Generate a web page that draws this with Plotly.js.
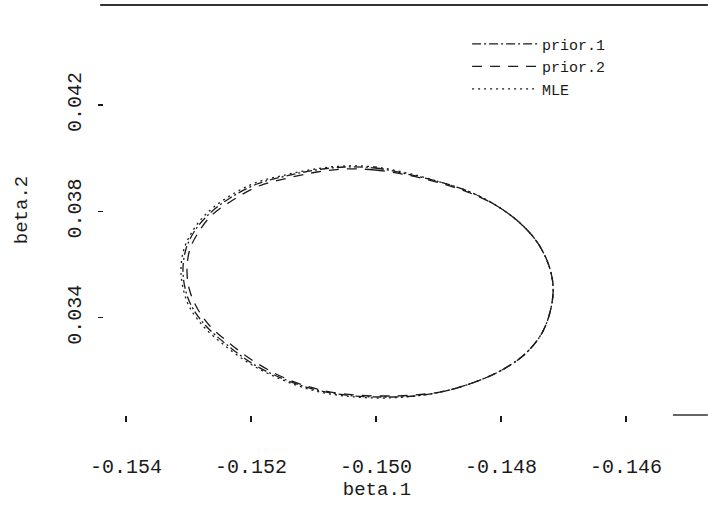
<!DOCTYPE html>
<html>
<head>
<meta charset="utf-8">
<script src="https://cdn.plot.ly/plotly-3.0.1.min.js"></script>
<style>html,body{margin:0;padding:0;background:#fff;}#chart{width:708px;height:518px;}</style>
</head>
<body>
<div id="chart"></div>
<script>
// Contour points (beta.1, beta.2)
var seriesNames = ["prior.1", "prior.2", "MLE"];

var prior1_b1 = [-0.150496,-0.150016,-0.149504,-0.148976,-0.148496,-0.148064,-0.147696,-0.147424,-0.147248,-0.147168,-0.147200,-0.147344,-0.147616,-0.147984,-0.148416,-0.148896,-0.149376,-0.149856,-0.150336,-0.150880,-0.151440,-0.151968,-0.152400,-0.152720,-0.152944,-0.153056,-0.153088,-0.153040,-0.152912,-0.152688,-0.152336,-0.151904,-0.151440,-0.150960,-0.150496];
var prior1_b2 = [0.039669,0.039632,0.039406,0.039105,0.038729,0.038203,0.037564,0.036850,0.036060,0.035233,0.034368,0.033429,0.032639,0.032038,0.031586,0.031248,0.031060,0.031023,0.031060,0.031248,0.031662,0.032263,0.033015,0.033692,0.034406,0.035120,0.035872,0.036586,0.037226,0.037865,0.038504,0.039030,0.039331,0.039556,0.039669];

var prior2_b1 = [-0.150496,-0.150016,-0.149504,-0.148976,-0.148496,-0.148064,-0.147696,-0.147424,-0.147248,-0.147168,-0.147200,-0.147344,-0.147616,-0.147984,-0.148416,-0.148896,-0.149376,-0.149856,-0.150336,-0.150880,-0.151424,-0.151936,-0.152368,-0.152672,-0.152880,-0.152992,-0.153024,-0.152976,-0.152848,-0.152640,-0.152288,-0.151872,-0.151408,-0.150944,-0.150496];
var prior2_b2 = [0.039594,0.039556,0.039368,0.039068,0.038692,0.038203,0.037564,0.036850,0.036060,0.035233,0.034368,0.033429,0.032639,0.032038,0.031586,0.031248,0.031098,0.031060,0.031098,0.031286,0.031699,0.032338,0.033090,0.033729,0.034444,0.035120,0.035872,0.036586,0.037188,0.037827,0.038429,0.038955,0.039256,0.039481,0.039594];

var mle_b1 = [-0.150496,-0.150016,-0.149504,-0.148976,-0.148496,-0.148064,-0.147696,-0.147424,-0.147248,-0.147168,-0.147200,-0.147344,-0.147616,-0.147984,-0.148416,-0.148896,-0.149376,-0.149856,-0.150336,-0.150896,-0.151456,-0.151984,-0.152432,-0.152752,-0.152976,-0.153088,-0.153120,-0.153072,-0.152944,-0.152720,-0.152368,-0.151936,-0.151456,-0.150976,-0.150496];
var mle_b2 = [0.039707,0.039669,0.039444,0.039105,0.038729,0.038203,0.037564,0.036850,0.036060,0.035233,0.034368,0.033429,0.032639,0.032038,0.031586,0.031248,0.031060,0.030985,0.031023,0.031211,0.031624,0.032226,0.032977,0.033654,0.034368,0.035120,0.035872,0.036586,0.037226,0.037902,0.038541,0.039068,0.039368,0.039594,0.039707];

var xTickVals = [-0.154, -0.152, -0.150, -0.148, -0.146];
var xTickText = ["-0.154", "-0.152", "-0.150", "-0.148", "-0.146"];
var yTickVals = [0.034, 0.038, 0.042];
var yTickText = ["0.034", "0.038", "0.042"];

var FONT = "Liberation Mono, Courier New, monospace";
var INK = "#1a1a1a";

function trace(name, xs, ys, dash) {
  return {
    type: "scatter", mode: "lines", name: name, x: xs, y: ys,
    line: {color: INK, width: 1.3, dash: dash, shape: "spline", smoothing: 1.0},
    hoverinfo: "skip"
  };
}

var data = [
  trace(seriesNames[0], prior1_b1, prior1_b2, "9px,3px,2px,3px"),
  trace(seriesNames[1], prior2_b1, prior2_b2, "10px,8px"),
  trace(seriesNames[2], mle_b1, mle_b2, "2px,4px")
];

var layout = {
  width: 708, height: 518,
  margin: {l: 104, r: 58, t: 5, b: 103},
  paper_bgcolor: "#fff", plot_bgcolor: "#fff",
  font: {family: FONT, size: 20, color: INK},
  showlegend: true,
  legend: {
    x: 0.665, y: 0.945, xanchor: "left", yanchor: "top",
    bgcolor: "rgba(0,0,0,0)", borderwidth: 0,
    font: {family: FONT, size: 15, color: INK},
    itemwidth: 65, tracegroupgap: 0
  },
  xaxis: {
    range: [-0.154352, -0.145616],
    tickmode: "array", tickvals: xTickVals, ticktext: xTickText,
    ticks: "outside", ticklen: 6, tickwidth: 1.2, tickcolor: INK,
    showline: false, showgrid: false, zeroline: false,
    ticklabelstandoff: 27,
    tickfont: {family: FONT, size: 20, color: INK},
    title: {text: "beta.1", font: {family: FONT, size: 19, color: INK}, standoff: 1}
  },
  yaxis: {
    range: [0.030346, 0.045759],
    tickmode: "array", tickvals: yTickVals, ticktext: yTickText,
    tickangle: -90,
    ticks: "outside", ticklen: 5, tickwidth: 1.2, tickcolor: INK,
    showline: false, showgrid: false, zeroline: false,
    ticklabelstandoff: 9,
    tickfont: {family: FONT, size: 20, color: INK},
    title: {text: "beta.2", font: {family: FONT, size: 19, color: INK}, standoff: 31}
  },
  shapes: [
    {type: "line", xref: "paper", yref: "paper", x0: -0.007, x1: 1.106, y0: 1, y1: 1,
     line: {color: "#333", width: 2}},
    {type: "line", xref: "paper", yref: "paper", x0: 1.042, x1: 1.106, y0: 0, y1: 0,
     line: {color: "#333", width: 1.3}}
  ]
};

Plotly.newPlot("chart", data, layout, {staticPlot: true, displayModeBar: false});
</script>
</body>
</html>
